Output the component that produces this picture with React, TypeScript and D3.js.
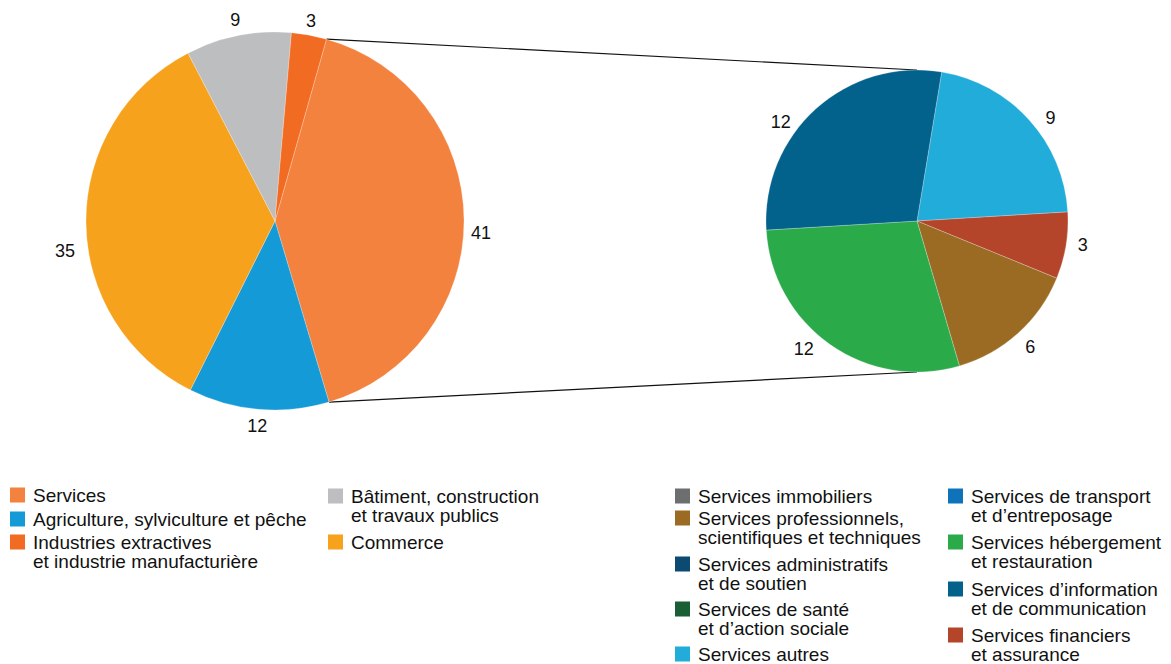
import React from "react";
import * as d3 from "d3";

// ---------- DATA ----------
const mainCategories = [
  "Services",
  "Agriculture, sylviculture et pêche",
  "Commerce",
  "Bâtiment, construction et travaux publics",
  "Industries extractives et industrie manufacturière",
];
const mainValues = [41, 12, 35, 9, 3];
const mainColors = ["#F4823F", "#149AD7", "#F7A21D", "#BCBEBF", "#F26B22"];

const subCategories = [
  "Services autres",
  "Services financiers et assurance",
  "Services professionnels, scientifiques et techniques",
  "Services hébergement et restauration",
  "Services d’information et de communication",
];
const subValues = [9, 3, 6, 12, 12];
const subColors = ["#21ACDA", "#B5452A", "#9B6B24", "#2BAA4A", "#03628C"];

// legend entries (label lines, colour)
const legendLeft1 = [
  { lines: ["Services"], color: "#F4823F" },
  { lines: ["Agriculture, sylviculture et pêche"], color: "#149AD7" },
  { lines: ["Industries extractives", "et industrie manufacturière"], color: "#F26B22" },
];
const legendLeft2 = [
  { lines: ["Bâtiment, construction", "et travaux publics"], color: "#BCBEBF" },
  { lines: ["Commerce"], color: "#F7A21D" },
];
const legendRight1 = [
  { lines: ["Services immobiliers"], color: "#6D6E70" },
  { lines: ["Services professionnels,", "scientifiques et techniques"], color: "#9B6B24" },
  { lines: ["Services administratifs", "et de soutien"], color: "#0C4A72" },
  { lines: ["Services de santé", "et d’action sociale"], color: "#1A5E35" },
  { lines: ["Services autres"], color: "#21ACDA" },
];
const legendRight2 = [
  { lines: ["Services de transport", "et d’entreposage"], color: "#0F73BA" },
  { lines: ["Services hébergement", "et restauration"], color: "#2BAA4A" },
  { lines: ["Services d’information", "et de communication"], color: "#03628C" },
  { lines: ["Services financiers", "et assurance"], color: "#B5452A" },
];

// ---------- LAYOUT ----------
const W = 1171;
const H = 664;
const FONT = "'Liberation Sans', Arial, Helvetica, sans-serif";
const deg = Math.PI / 180;

const mainPie = { cx: 275, cy: 221, r: 189, labelR: 205, start: 15.8 * deg };
const subPie = { cx: 917, cy: 221, r: 151, labelR: 169, start: 9.4 * deg };
const mainLabelNudge: [number, number][] = [[1, 13], [0, 0], [-5, 28], [0, 0], [-1, 1]];
const subLabelNudge: [number, number][] = [[8, 10], [-1, -4], [0, 0], [-16, -11], [-23, 26]];

const legendCols = [
  { items: legendLeft1, x: 10, ys: [495, 519, 542] },
  { items: legendLeft2, x: 328, ys: [496, 542] },
  { items: legendRight1, x: 675, ys: [496, 518, 564, 609, 654] },
  { items: legendRight2, x: 948, ys: [496, 542, 589, 635] },
];
const LINE_H = 19.5;
const SQ = 15;

function Pie({ values, colors, cfg, nudge }: any) {
  const pie = d3.pie<number>().sort(null).value((d) => d)
    .startAngle(cfg.start).endAngle(cfg.start + 2 * Math.PI);
  const arcs = pie(values);
  const arc = d3.arc<d3.PieArcDatum<number>>().innerRadius(0).outerRadius(cfg.r);
  const labelArc = d3.arc<d3.PieArcDatum<number>>().innerRadius(cfg.labelR).outerRadius(cfg.labelR);
  return (
    <g transform={`translate(${cfg.cx},${cfg.cy})`}>
      {arcs.map((a, i) => (
        <path key={i} d={arc(a) || ""} fill={colors[i]} stroke="#ffffff" strokeWidth={0.4} strokeOpacity={0.6} />
      ))}
      {arcs.map((a, i) => {
        const [x, y] = labelArc.centroid(a);
        return (
          <text key={"l" + i} x={x + nudge[i][0]} y={y + nudge[i][1]} dy="0.35em" textAnchor="middle"
            fontSize={18} fill="#111">
            {values[i]}
          </text>
        );
      })}
    </g>
  );
}

export default function App() {
  const mainArcs = d3.pie<number>().sort(null).value((d) => d)
    .startAngle(mainPie.start).endAngle(mainPie.start + 2 * Math.PI)(mainValues);
  const s = mainArcs[0];
  const pt = (ang: number) => [mainPie.cx + mainPie.r * Math.sin(ang), mainPie.cy - mainPie.r * Math.cos(ang)];
  const [x1, y1] = pt(s.startAngle);
  const [x2, y2] = pt(s.endAngle);

  return (
    <div style={{ position: "absolute", left: 0, top: 0 }}>
      <svg width={W} height={H} style={{ display: "block", fontFamily: FONT }}>
        <rect width={W} height={H} fill="#ffffff" />
        <line x1={x1} y1={y1} x2={subPie.cx} y2={subPie.cy - subPie.r} stroke="#111" strokeWidth={1.2} />
        <line x1={x2} y1={y2} x2={subPie.cx} y2={subPie.cy + subPie.r} stroke="#111" strokeWidth={1.2} />
        <Pie values={mainValues} colors={mainColors} cfg={mainPie} nudge={mainLabelNudge} />
        <Pie values={subValues} colors={subColors} cfg={subPie} nudge={subLabelNudge} />
        {legendCols.map((col, ci) => (
          <g key={ci}>
            {col.items.map((it, ii) => (
              <g key={ii}>
                <rect x={col.x} y={col.ys[ii] - SQ / 2} width={SQ} height={SQ} fill={it.color} />
                {it.lines.map((ln, li) => (
                  <text key={li} x={col.x + 23} y={col.ys[ii] + li * LINE_H} dy="0.35em" fontSize={19} fill="#111">
                    {ln}
                  </text>
                ))}
              </g>
            ))}
          </g>
        ))}
      </svg>
    </div>
  );
}
